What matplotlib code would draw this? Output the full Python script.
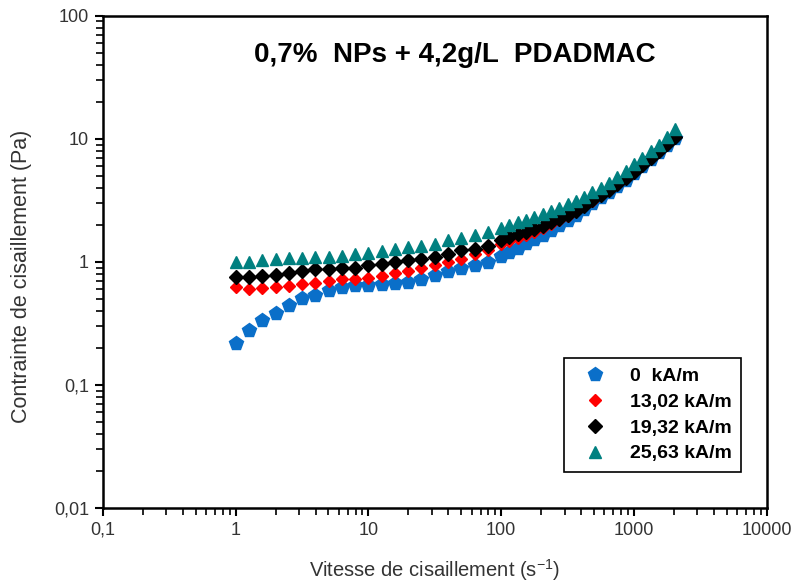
import matplotlib.pyplot as plt
from matplotlib.ticker import FixedLocator, FixedFormatter, LogLocator, NullFormatter

plt.rcParams['font.family'] = ['Liberation Sans', 'DejaVu Sans']
plt.rcParams['mathtext.default'] = 'regular'

# Vitesse de cisaillement (s-1)
vitesse = [1, 1.26, 1.58, 2, 2.51, 3.16, 3.98, 5.01, 6.31, 7.94,
           10, 12.6, 15.8, 20, 25.1, 31.6, 39.8, 50.1, 63.1, 79.4,
           100, 115, 133, 154, 178, 205, 237, 274, 316, 365, 422,
           487, 562, 649, 750, 866, 1000, 1155, 1334, 1540, 1778, 2054]

# Contrainte de cisaillement (Pa)
c_0 = [0.22, 0.28, 0.34, 0.385, 0.45, 0.51, 0.54, 0.59, 0.63, 0.65,
       0.65, 0.66, 0.67, 0.69, 0.73, 0.78, 0.84, 0.89, 0.94, 1.0,
       1.12, 1.2, 1.3, 1.42, 1.53, 1.67, 1.83, 2.0, 2.2, 2.42, 2.7,
       3.0, 3.35, 3.72, 4.15, 4.65, 5.25, 6.0, 6.85, 7.8, 8.9, 10.2]
c_13 = [0.62, 0.6, 0.61, 0.62, 0.64, 0.66, 0.68, 0.7, 0.72, 0.73,
        0.74, 0.77, 0.81, 0.85, 0.9, 0.95, 1.0, 1.06, 1.15, 1.25,
        1.4, 1.48, 1.57, 1.66, 1.76, 1.88, 2.03, 2.19, 2.37, 2.58, 2.83,
        3.15, 3.48, 3.83, 4.28, 4.78, 5.38, 6.1, 6.95, 7.95, 9.05, 10.3]
c_19 = [0.755, 0.755, 0.77, 0.79, 0.81, 0.85, 0.87, 0.87, 0.89, 0.89,
        0.94, 0.96, 1.0, 1.04, 1.06, 1.1, 1.16, 1.24, 1.27, 1.35,
        1.5, 1.6, 1.69, 1.75, 1.85, 1.96, 2.11, 2.24, 2.41, 2.6, 2.85,
        3.19, 3.5, 3.85, 4.3, 4.8, 5.4, 6.15, 7.0, 8.0, 9.1, 10.4]
c_25 = [1.0, 1.0, 1.04, 1.06, 1.08, 1.08, 1.1, 1.1, 1.11, 1.16,
        1.18, 1.23, 1.28, 1.32, 1.35, 1.4, 1.5, 1.57, 1.66, 1.75,
        1.9, 2.0, 2.1, 2.2, 2.3, 2.45, 2.6, 2.75, 2.95, 3.15, 3.4,
        3.7, 4.0, 4.4, 4.9, 5.5, 6.2, 7.0, 7.9, 9.0, 10.3, 12.0]

labels = ['0  kA/m', '13,02 kA/m', '19,32 kA/m', '25,63 kA/m']

fig = plt.figure(figsize=(7.97, 5.86), dpi=100)
ax = fig.add_axes([0.129, 0.133, 0.833, 0.84])

ax.plot(vitesse, c_0, 'p', color='#0a6fc9', ms=10, label=labels[0])
ax.plot(vitesse, c_13, 'D', color='#ff0000', ms=6.5, label=labels[1])
ax.plot(vitesse, c_19, 'D', color='black', ms=7.5, label=labels[2])
ax.plot(vitesse, c_25, '^', color='#008080', ms=9, label=labels[3])

ax.set_xscale('log')
ax.set_yscale('log')
ax.set_xlim(0.1, 10000)
ax.set_ylim(0.01, 100)

xt = [0.1, 1, 10, 100, 1000, 10000]
yt = [0.01, 0.1, 1, 10, 100]
ax.xaxis.set_major_locator(FixedLocator(xt))
ax.xaxis.set_major_formatter(FixedFormatter(['0,1', '1', '10', '100', '1000', '10000']))
ax.yaxis.set_major_locator(FixedLocator(yt))
ax.yaxis.set_major_formatter(FixedFormatter(['0,01', '0,1', '1', '10', '100']))
ax.xaxis.set_minor_locator(LogLocator(base=10, subs=range(2, 10), numticks=20))
ax.yaxis.set_minor_locator(LogLocator(base=10, subs=range(2, 10), numticks=20))
ax.xaxis.set_minor_formatter(NullFormatter())
ax.yaxis.set_minor_formatter(NullFormatter())

ax.tick_params(which='major', direction='out', length=6, width=1.5, labelsize=13,
               labelcolor='#333333', pad=4)
ax.tick_params(which='minor', direction='out', length=5, width=1.2)
for s in ax.spines.values():
    s.set_linewidth(1.8)

ax.set_xlabel('Vitesse de cisaillement (s$^{-1}$)', fontsize=14.5, color='#333333', labelpad=13)
ax.set_ylabel('Contrainte de cisaillement (Pa)', fontsize=15.5, color='#333333')
ax.yaxis.set_label_coords(-0.107, 0.47)

ax.text(0.53, 0.92, '0,7%  NPs + 4,2g/L  PDADMAC', transform=ax.transAxes,
        ha='center', va='center', fontsize=20, fontweight='bold')

leg = ax.legend(loc='lower right', bbox_to_anchor=(0.962, 0.073), numpoints=1,
                fancybox=False, edgecolor='black', framealpha=1,
                prop={'weight': 'bold', 'size': 14}, borderpad=0.5,
                labelspacing=0.42, handletextpad=0.7, handlelength=2.2,
                borderaxespad=0)
leg.get_frame().set_linewidth(1.2)

fig.savefig('out.png', dpi=100)
